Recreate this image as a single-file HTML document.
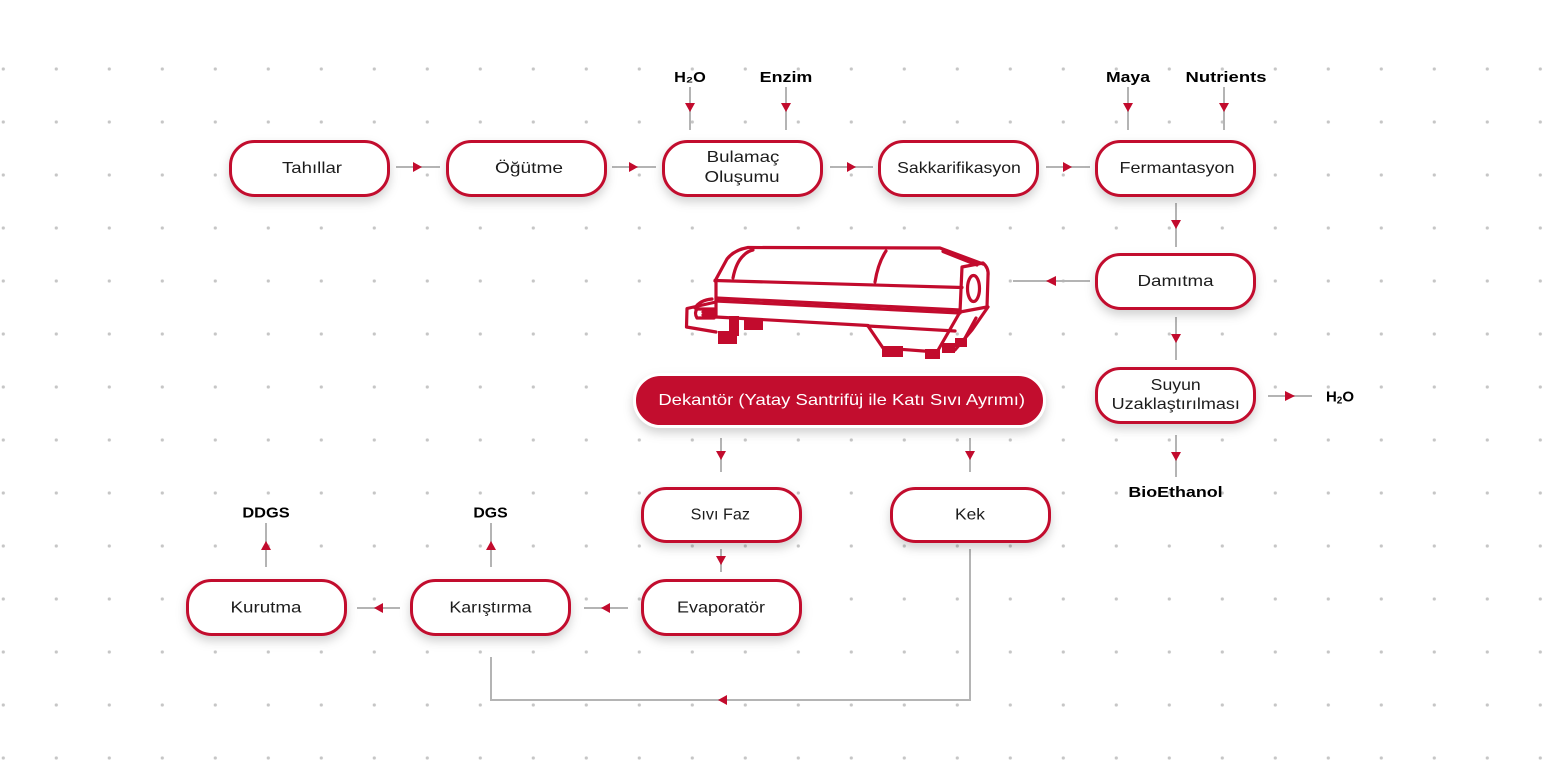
<!DOCTYPE html>
<html><head><meta charset="utf-8"><style>
html,body{margin:0;padding:0;background:#fff;}
svg{display:block;}
.n{fill:#fff;stroke:#c20b2d;stroke-width:3;}
.t{font-family:"Liberation Sans",sans-serif;font-size:16px;fill:#1c1c1c;}
.b{font-family:"Liberation Sans",sans-serif;font-size:15px;font-weight:bold;fill:#000;}
.l{stroke:#b4b4b4;stroke-width:2;fill:none;}
.a{fill:#c20b2d;}
.m{stroke:#c20b2d;stroke-width:3.2;fill:none;stroke-linejoin:round;stroke-linecap:round;}
</style></head><body>
<svg width="1544" height="774" viewBox="0 0 1544 774" xmlns="http://www.w3.org/2000/svg">
<defs>
<pattern id="dots" x="-23.2" y="42.5" width="53" height="53" patternUnits="userSpaceOnUse">
<circle cx="26.5" cy="26.5" r="1.6" fill="#c6c6c6"/>
</pattern>
<filter id="sh" x="-20%" y="-30%" width="140%" height="180%">
<feDropShadow dx="0" dy="5" stdDeviation="5" flood-color="#000" flood-opacity="0.18"/>
</filter>
</defs>
<rect x="0" y="50" width="1544" height="724" fill="url(#dots)"/>

<!-- connectors top row -->
<line class="l" x1="396" y1="167" x2="440" y2="167"/><polygon class="a" points="413,162 422,167 413,172"/>
<line class="l" x1="612" y1="167" x2="656" y2="167"/><polygon class="a" points="629,162 638,167 629,172"/>
<line class="l" x1="830" y1="167" x2="873" y2="167"/><polygon class="a" points="847,162 856,167 847,172"/>
<line class="l" x1="1046" y1="167" x2="1090" y2="167"/><polygon class="a" points="1063,162 1072,167 1063,172"/>

<!-- inputs -->
<line class="l" x1="690" y1="87" x2="690" y2="130"/><polygon class="a" points="685,103 695,103 690,112"/>
<line class="l" x1="786" y1="87" x2="786" y2="130"/><polygon class="a" points="781,103 791,103 786,112"/>
<line class="l" x1="1128" y1="87" x2="1128" y2="130"/><polygon class="a" points="1123,103 1133,103 1128,112"/>
<line class="l" x1="1224" y1="87" x2="1224" y2="130"/><polygon class="a" points="1219,103 1229,103 1224,112"/>

<text class="b" x="690" y="82" text-anchor="middle" textLength="31.7" lengthAdjust="spacingAndGlyphs">H₂O</text>
<text class="b" x="786" y="82" text-anchor="middle" textLength="52.7" lengthAdjust="spacingAndGlyphs">Enzim</text>
<text class="b" x="1128" y="82" text-anchor="middle" textLength="44" lengthAdjust="spacingAndGlyphs">Maya</text>
<text class="b" x="1226" y="82" text-anchor="middle" textLength="81" lengthAdjust="spacingAndGlyphs">Nutrients</text>

<!-- right column -->
<line class="l" x1="1176" y1="203" x2="1176" y2="247"/><polygon class="a" points="1171,220 1181,220 1176,229"/>
<line class="l" x1="1013" y1="281" x2="1090" y2="281"/><polygon class="a" points="1056,276 1046,281 1056,286"/>
<line class="l" x1="1176" y1="317" x2="1176" y2="360"/><polygon class="a" points="1171,334 1181,334 1176,343"/>
<line class="l" x1="1268" y1="396" x2="1312" y2="396"/><polygon class="a" points="1285,391 1295,396 1285,401"/>
<line class="l" x1="1176" y1="435" x2="1176" y2="477"/><polygon class="a" points="1171,452 1181,452 1176,461"/>
<text class="b" x="1340" y="401.5" text-anchor="middle">H<tspan font-size="10" dy="2">2</tspan><tspan dy="-2">O</tspan></text>
<text class="b" x="1175.5" y="497" text-anchor="middle" textLength="94.3" lengthAdjust="spacingAndGlyphs">BioEthanol</text>

<!-- dekantor branches -->
<line class="l" x1="721" y1="438" x2="721" y2="472"/><polygon class="a" points="716,451 726,451 721,460"/>
<line class="l" x1="970" y1="438" x2="970" y2="472"/><polygon class="a" points="965,451 975,451 970,460"/>
<line class="l" x1="721" y1="549" x2="721" y2="572"/><polygon class="a" points="716,556 726,556 721,565"/>
<line class="l" x1="584" y1="608" x2="628" y2="608"/><polygon class="a" points="610,603 601,608 610,613"/>
<line class="l" x1="357" y1="608" x2="400" y2="608"/><polygon class="a" points="383,603 374,608 383,613"/>
<line class="l" x1="266" y1="523" x2="266" y2="567"/><polygon class="a" points="261,550 271,550 266,541"/>
<line class="l" x1="491" y1="523" x2="491" y2="567"/><polygon class="a" points="486,550 496,550 491,541"/>
<polyline class="l" points="970,549 970,700 491,700 491,657"/><polygon class="a" points="727,695 718,700 727,705"/>
<text class="b" x="266" y="517.5" text-anchor="middle" textLength="47.3" lengthAdjust="spacingAndGlyphs">DDGS</text>
<text class="b" x="490.5" y="517.5" text-anchor="middle" textLength="34.3" lengthAdjust="spacingAndGlyphs">DGS</text>

<!-- nodes -->
<g filter="url(#sh)">
<rect class="n" x="230.5" y="141.5" width="158" height="54" rx="24"/>
<rect class="n" x="447.5" y="141.5" width="158" height="54" rx="24"/>
<rect class="n" x="663.5" y="141.5" width="158" height="54" rx="24"/>
<rect class="n" x="879.5" y="141.5" width="158" height="54" rx="24"/>
<rect class="n" x="1096.5" y="141.5" width="158" height="54" rx="24"/>
<rect class="n" x="1096.5" y="254.5" width="158" height="54" rx="24"/>
<rect class="n" x="1096.5" y="368.5" width="158" height="54" rx="24"/>
<rect class="n" x="642.5" y="488.5" width="158" height="53" rx="24"/>
<rect class="n" x="891.5" y="488.5" width="158" height="53" rx="24"/>
<rect class="n" x="642.5" y="580.5" width="158" height="54" rx="24"/>
<rect class="n" x="411.5" y="580.5" width="158" height="54" rx="24"/>
<rect class="n" x="187.5" y="580.5" width="158" height="54" rx="24"/>
<rect x="634.5" y="374.5" width="410" height="52" rx="26" fill="#c20b2d" stroke="#fff" stroke-width="3"/>
</g>

<text class="t" x="312" y="173" text-anchor="middle" textLength="60" lengthAdjust="spacingAndGlyphs">Tahıllar</text>
<text class="t" x="529" y="173" text-anchor="middle" textLength="68" lengthAdjust="spacingAndGlyphs">Öğütme</text>
<text class="t" x="743" y="162" text-anchor="middle" textLength="72.7" lengthAdjust="spacingAndGlyphs">Bulamaç</text>
<text class="t" x="742" y="182" text-anchor="middle" textLength="75" lengthAdjust="spacingAndGlyphs">Oluşumu</text>
<text class="t" x="959" y="173" text-anchor="middle" textLength="123.7" lengthAdjust="spacingAndGlyphs">Sakkarifikasyon</text>
<text class="t" x="1177" y="173" text-anchor="middle" textLength="115" lengthAdjust="spacingAndGlyphs">Fermantasyon</text>
<text class="t" x="1175.5" y="286" text-anchor="middle" textLength="76" lengthAdjust="spacingAndGlyphs">Damıtma</text>
<text class="t" x="1175.7" y="390" text-anchor="middle" textLength="50" lengthAdjust="spacingAndGlyphs">Suyun</text>
<text class="t" x="1175.8" y="409" text-anchor="middle" textLength="128.3" lengthAdjust="spacingAndGlyphs">Uzaklaştırılması</text>
<text class="t" x="720.3" y="519.5" text-anchor="middle" textLength="59.3" lengthAdjust="spacingAndGlyphs">Sıvı Faz</text>
<text class="t" x="970" y="519.5" text-anchor="middle" textLength="30" lengthAdjust="spacingAndGlyphs">Kek</text>
<text class="t" x="721" y="612.7" text-anchor="middle" textLength="88" lengthAdjust="spacingAndGlyphs">Evaporatör</text>
<text class="t" x="490.5" y="612.7" text-anchor="middle" textLength="82.3" lengthAdjust="spacingAndGlyphs">Karıştırma</text>
<text class="t" x="266" y="612.7" text-anchor="middle" textLength="71" lengthAdjust="spacingAndGlyphs">Kurutma</text>
<text x="841.7" y="405" text-anchor="middle" font-family="Liberation Sans, sans-serif" font-size="16" fill="#fff" textLength="366.7" lengthAdjust="spacingAndGlyphs">Dekantör (Yatay Santrifüj ile Katı Sıvı Ayrımı)</text>

<!-- decanter machine -->
<g>
<path d="M715,281 L727,259 Q734,250 748,247.5 L940,248 L983,264 L988,272 L987,307 L960,312 L937,352 L883,348 L868,326 L716,317 L716,332 L686.5,327 L687,308.5 L716,302 Z" fill="#fff" stroke="none"/>
<path class="m" d="M715,281 L727,259 Q734,250 748,247.5 L940,248 L983,264"/>
<path class="m" d="M733,278 Q736,262 744,255 Q748,251 753,250"/>
<path class="m" d="M886,251 Q878,263 875,282"/>
<path class="m" d="M943,251.5 L977,265" stroke-width="2"/>
<path class="m" d="M962,267 L983,263 Q989,268 988,276 L987,307 L960,312 Z"/>
<ellipse class="m" cx="973.5" cy="288.5" rx="6" ry="13"/>
<path class="m" d="M715,280.5 L962,287.5"/>
<path class="m" d="M716,280 L716,317"/>
<path class="m" d="M716,298 L960,310" stroke-width="2.4"/>
<path class="m" d="M716,301 L960,313" stroke-width="1"/>
<path class="m" d="M716,317 L868,325.5"/>
<path class="m" d="M868,326 L955,331" stroke-width="2"/>
<path class="m" d="M716,302 L687,308.5 L686.5,327 L716,332"/>
<path class="m" d="M695,308 Q700,300 712,299" stroke-width="2.4"/>
<path class="m" d="M697,309 L714,309 L714,318 L697,318 Q694,313 697,309 Z" stroke-width="1.8"/>
<path class="m" d="M703,312 L714,312 M703,315 L714,315" stroke-width="1"/>
<path class="m" d="M868,326 L883,348 L937,352 L960,312"/>
<path class="m" d="M988,307 L972,330 L955,350"/>
<path class="m" d="M976,318 L964,340" stroke-width="2.2"/>
<rect x="718" y="331" width="19" height="13" fill="#c20b2d"/>
<rect x="729" y="316" width="10" height="20" fill="#c20b2d"/>
<rect x="744" y="318" width="19" height="12" fill="#c20b2d"/>
<rect x="882" y="346" width="21" height="11" fill="#c20b2d"/>
<rect x="925" y="349" width="15" height="10" fill="#c20b2d"/>
<rect x="942" y="343" width="13" height="10" fill="#c20b2d"/>
<rect x="955" y="338" width="12" height="9" fill="#c20b2d"/>
</g>
</svg>
</body></html>
